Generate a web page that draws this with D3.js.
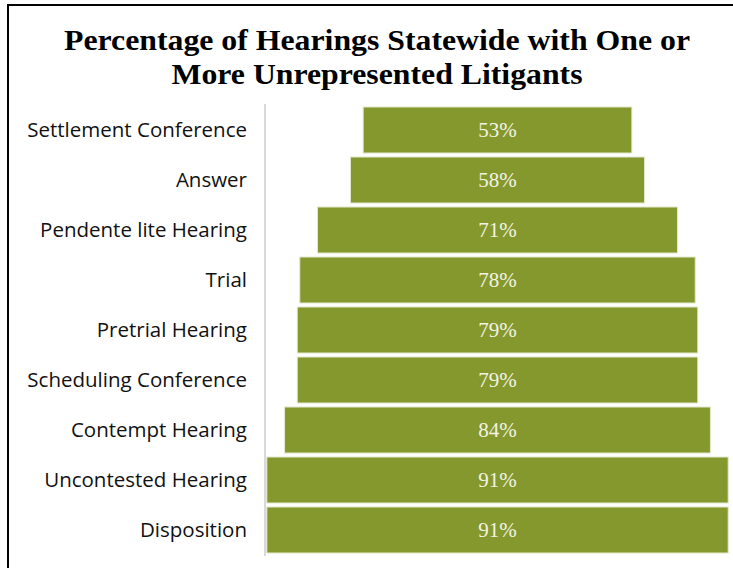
<!DOCTYPE html>
<html lang="en">
<head>
    <meta charset="UTF-8">
    <title>Percentage of Hearings Statewide with One or More Unrepresented Litigants</title>
    <script src="https://cdnjs.cloudflare.com/ajax/libs/d3/7.8.5/d3.min.js"></script>
    <style>
        body {
            margin: 0;
            background-color: white;
        }
        svg {
            display: block;
        }
    </style>
</head>
<body>
    <svg id="chart"></svg>

    <script>
        const width = 733;
        const height = 568;

        // Data (top to bottom)
        const categories = [
            "Settlement Conference",
            "Answer",
            "Pendente lite Hearing",
            "Trial",
            "Pretrial Hearing",
            "Scheduling Conference",
            "Contempt Hearing",
            "Uncontested Hearing",
            "Disposition"
        ];
        const values = [53, 58, 71, 78, 79, 79, 84, 91, 91];
        const titleLines = [
            "Percentage of Hearings Statewide with One or",
            "More Unrepresented Litigants"
        ];

        const data = categories.map((c, i) => ({ name: c, value: values[i] }));

        const barColor = "#84982e";
        const centerX = 497.5;

        const svg = d3.select("#chart")
            .attr("width", width)
            .attr("height", height);

        // Frame (top and left edges)
        svg.append("line")
            .attr("x1", 7).attr("x2", width)
            .attr("y1", 5).attr("y2", 5)
            .style("stroke", "#000")
            .style("stroke-width", 2);
        svg.append("line")
            .attr("x1", 8).attr("x2", 8)
            .attr("y1", 4).attr("y2", height)
            .style("stroke", "#000")
            .style("stroke-width", 2);

        // Title - stretched a little to match the original Garamond width
        const titleWidths = [626, 411];
        svg.append("g")
            .selectAll("text")
            .data(titleLines)
            .enter()
            .append("text")
            .attr("x", 377)
            .attr("y", (d, i) => 50 + i * 34)
            .attr("text-anchor", "middle")
            .attr("textLength", (d, i) => titleWidths[i])
            .attr("lengthAdjust", "spacingAndGlyphs")
            .style("font-family", "'Liberation Serif', serif")
            .style("font-weight", "bold")
            .style("font-size", "30px")
            .style("fill", "#000")
            .text(d => d);

        // Scales
        const widthScale = d3.scaleLinear()
            .domain([0, 100])
            .range([0, 507]);

        const yScale = d3.scaleBand()
            .domain(categories)
            .range([105, 555])
            .paddingInner(0.08)
            .paddingOuter(0.04);

        // Axis line
        svg.append("line")
            .attr("x1", 265).attr("x2", 265)
            .attr("y1", 104).attr("y2", 556)
            .style("stroke", "#d9d9d9")
            .style("stroke-width", 2);

        // Category labels
        svg.append("g")
            .selectAll("text")
            .data(data)
            .enter()
            .append("text")
            .attr("x", 247)
            .attr("y", d => yScale(d.name) + yScale.bandwidth() / 2)
            .attr("dy", "0.35em")
            .attr("text-anchor", "end")
            .style("font-family", "'Open Sans', sans-serif")
            .style("font-size", "20.5px")
            .style("fill", "#111")
            .text(d => d.name);

        // Bars (centered funnel)
        svg.append("g")
            .selectAll("rect")
            .data(data)
            .enter()
            .append("rect")
            .attr("x", d => centerX - widthScale(d.value) / 2)
            .attr("y", d => yScale(d.name))
            .attr("width", d => widthScale(d.value))
            .attr("height", yScale.bandwidth())
            .style("fill", barColor)
            .style("stroke", "#e3e8cc")
            .style("stroke-width", 1);

        // Value labels
        svg.append("g")
            .selectAll("text")
            .data(data)
            .enter()
            .append("text")
            .attr("x", centerX)
            .attr("y", d => yScale(d.name) + yScale.bandwidth() / 2)
            .attr("dy", "0.35em")
            .attr("text-anchor", "middle")
            .style("font-family", "'Liberation Serif', serif")
            .style("font-size", "21px")
            .style("fill", "#f3f3e4")
            .text(d => d.value + "%");
    </script>
</body>
</html>
